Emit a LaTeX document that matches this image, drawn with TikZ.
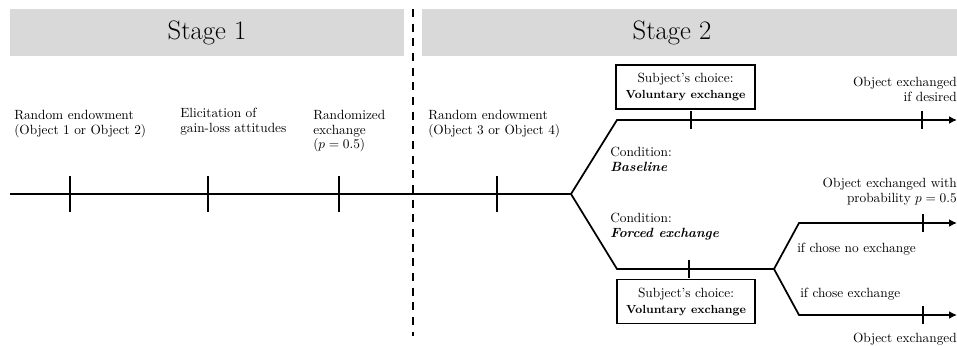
\documentclass[tikz,border=0pt]{standalone}
\usepackage{fontspec}
\usetikzlibrary{arrows.meta}
\tikzset{
  lbl/.style={inner sep=0pt, font=\fontsize{10}{11}\selectfont},
  lblL/.style={lbl, align=left, anchor=north west},
  lblR/.style={lbl, align=right, anchor=north east},
  choicebox/.style={draw, line width=1.3pt, minimum width=104pt, minimum height=33pt,
    align=center, inner sep=0pt, font=\fontsize{10}{12}\selectfont},
  tl/.style={line width=1.3pt},
  arr/.style={tl, -{Latex[length=6pt,width=6pt]}},
  bigtick/.style={line width=1.3pt},
  stagebar/.style={fill=black!15},
  stagetxt/.style={font=\fontsize{20}{23}\selectfont, inner sep=0pt},
  divider/.style={line width=1.5pt, dash pattern=on 6pt off 5pt},
}
\begin{document}
\begin{tikzpicture}[x=0.75pt,y=-0.75pt]
\useasboundingbox (0,0) rectangle (957,346);

% stage bars
\fill[stagebar] (10,9) rectangle (404,56);
\fill[stagebar] (422,9) rectangle (957,56);
\node[stagetxt] (st1) at (207,32.5) {Stage 1};
\node[stagetxt] (st2) at (672,32.5) {Stage 2};

% divider
\coordinate (dtop) at (413,9);
\coordinate (dbot) at (413,336);
\draw[divider] (dtop) -- (dbot);

% timeline coordinates
\coordinate (start) at (10,194);
\coordinate (b1) at (571,194);
\coordinate (u1) at (617,120);
\coordinate (uend) at (957,120);
\coordinate (l1) at (617,269);
\coordinate (b2) at (774,269);
\coordinate (r1) at (799,223);
\coordinate (r1end) at (957,223);
\coordinate (r2) at (799,315);
\coordinate (r2end) at (957,315);

\draw[tl] (start) -- (b1);
\draw[arr] (b1) -- (u1) -- (uend);
\draw[tl] (b1) -- (l1) -- (b2);
\draw[arr] (b2) -- (r1) -- (r1end);
\draw[arr] (b2) -- (r2) -- (r2end);

% ticks on main line
\foreach \x/\n in {70/ta,208/tb,339/tc,497/td}{
  \coordinate (\n) at (\x,194);
  \draw[bigtick] ([yshift=13.5pt]\n) -- ([yshift=-13.5pt]\n);
}
% small ticks
\foreach \x/\y/\n in {691/120/tu1,922/120/tu2,689/269/tl1,923/223/tr1,923/315/tr2}{
  \coordinate (\n) at (\x,\y);
  \draw[bigtick] ([yshift=6.4pt]\n) -- ([yshift=-6.4pt]\n);
}

% labels stage 1
\node[lblL] (e1) at (14,110) {Random endowment\\(Object 1 or Object 2)};
\node[lblL] (e2) at (180,108) {Elicitation of\\gain-loss attitudes};
\node[lblL] (e3) at (313,110) {Randomized\\exchange\\($p = 0.5$)};

% labels stage 2
\node[lblL] (e4) at (428,110) {Random endowment\\(Object 3 or Object 4)};
\node[choicebox] (box1) at (685.5,87) {Subject's choice:\\{\fontsize{8.8}{12}\selectfont\bfseries Voluntary exchange}};
\node[choicebox] (box2) at (686,301.5) {Subject's choice:\\{\fontsize{8.8}{12}\selectfont\bfseries Voluntary exchange}};
\node[lblR] (o1) at (957,77) {Object exchanged\\if desired};
\node[lblL] (c1) at (610,147) {Condition:\\\textbf{\textit{Baseline}}};
\node[lblL] (c2) at (610,213) {Condition:\\\textbf{\textit{Forced exchange}}};
\node[lblR] (o2) at (957,178) {Object exchanged with\\probability $p = 0.5$};
\node[lblL] (n1) at (797,243) {if chose no exchange};
\node[lblL] (n2) at (800,288) {if chose exchange};
\node[lblR] (o3) at (957,333) {Object exchanged};
\end{tikzpicture}
\end{document}
